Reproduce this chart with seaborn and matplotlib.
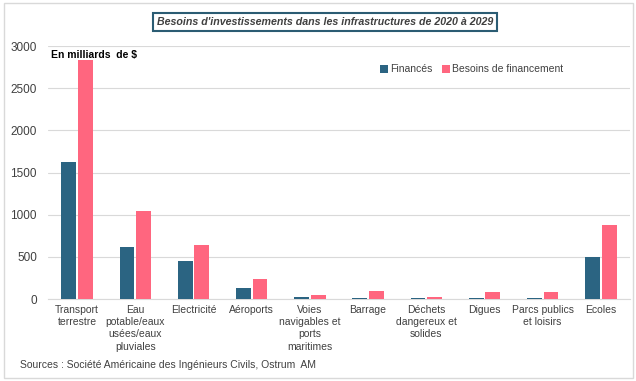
import matplotlib
matplotlib.use("Agg")
import matplotlib.pyplot as plt
import seaborn as sns
import pandas as pd
from matplotlib.patches import Rectangle

categories = ["Transport\nterrestre", "Eau\npotable/eaux\nusées/eaux\npluviales", "Electricité",
              "Aéroports", "Voies\nnavigables et\nports\nmaritimes", "Barrage",
              "Déchets\ndangereux et\nsolides", "Digues", "Parcs publics\net loisirs", "Ecoles"]
finances = [1620, 617, 450, 130, 24, 16, 16, 16, 16, 498]
besoins = [2840, 1050, 645, 237, 47, 98, 26, 83, 83, 877]
series = ["Financés", "Besoins de financement"]
yticks = [0, 500, 1000, 1500, 2000, 2500, 3000]

df = pd.DataFrame({
    "cat": categories * 2,
    "val": finances + besoins,
    "serie": [series[0]] * len(categories) + [series[1]] * len(categories),
})

sns.set_style("white")
plt.rcParams["font.family"] = ["Liberation Sans", "DejaVu Sans"]

fig = plt.figure(figsize=(6.36, 3.81), dpi=100)
ax = fig.add_axes([0.0755, 0.215, 0.915, 0.664])
palette = {series[0]: "#2B6482", series[1]: "#FF667F"}
sns.barplot(data=df, x="cat", y="val", hue="serie", palette=palette, width=0.57, gap=0.11,
            ax=ax, saturation=1, legend=True, linewidth=0, zorder=3)

ax.set_ylim(0, 3000)
ax.set_xlim(-0.5, len(categories) - 0.5)
ax.set_yticks(yticks)
ax.set_yticklabels([str(t) for t in yticks], fontsize=8.5, color="#404040")
ax.set_xticks(range(len(categories)))
ax.set_xticklabels(categories, fontsize=7.5, color="#404040", linespacing=1.3)
ax.tick_params(axis="both", length=0, pad=4)
ax.tick_params(axis="y", pad=8)
ax.set_xlabel("")
ax.set_ylabel("")
ax.grid(axis="y", color="#D9D9D9", linewidth=0.8)
ax.set_axisbelow(True)
for s in ["top", "right", "left"]:
    ax.spines[s].set_visible(False)
ax.spines["bottom"].set_color("#D9D9D9")
ax.spines["bottom"].set_zorder(0.5)

leg = ax.legend(loc="upper left", bbox_to_anchor=(0.555, 0.965), ncol=2, frameon=False,
                fontsize=7.5, handlelength=0.75, handleheight=0.75, handletextpad=0.2,
                columnspacing=0.9)
for t in leg.get_texts():
    t.set_color("#404040")

ax.text(0.005, 0.985, "En milliards  de $", transform=ax.transAxes, fontsize=7.5,
        fontweight="bold", va="top", ha="left", color="black")

fig.text(0.511, 0.942, "Besoins d'investissements dans les infrastructures de 2020 à 2029",
         fontsize=7.7, style="italic", fontweight="bold", color="#404040", ha="center", va="center",
         bbox=dict(boxstyle="square,pad=0.35", facecolor="white", edgecolor="#2B5C73", linewidth=1.5))

fig.text(0.032, 0.042, "Sources : Société Américaine des Ingénieurs Civils, Ostrum  AM",
         fontsize=7.5, color="#404040", ha="left", va="center")

fig.patches.append(Rectangle((0.006, 0.008), 0.99, 0.984, transform=fig.transFigure,
                             fill=False, edgecolor="#D9D9D9", linewidth=1.0))

fig.savefig("out.png", dpi=100)
